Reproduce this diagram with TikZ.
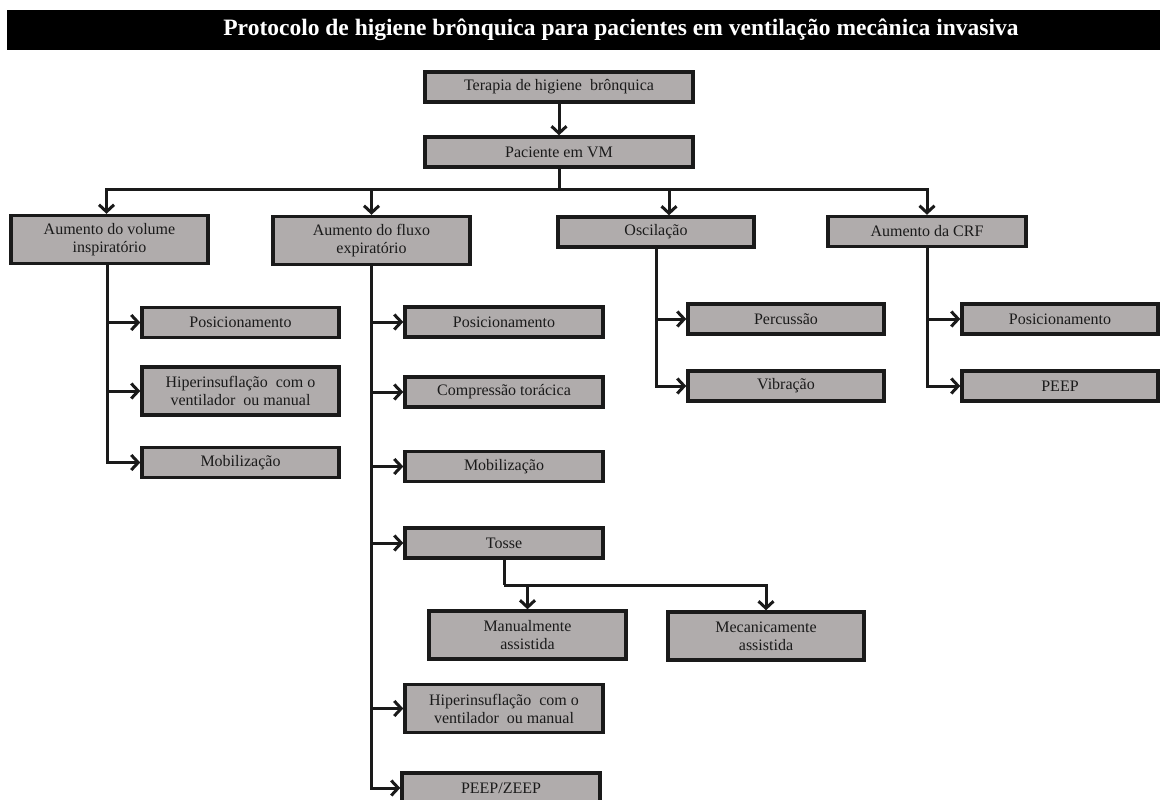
\documentclass[tikz,border=0pt]{standalone}
\usepackage{fontspec}
\setmainfont{Liberation Serif}
\usepackage{tikz,xcolor}
\usetikzlibrary{arrows.meta}
\definecolor{boxgray}{RGB}{176,172,172}
\definecolor{ink}{RGB}{26,26,26}
\tikzset{
 box/.style={draw=ink,line width=3.4pt,fill=boxgray,text=ink,minimum width=197pt,minimum height=30pt,inner sep=0pt,align=center,font=\fontsize{16}{18}\selectfont},
 tallbox/.style={box,minimum height=48pt},
 conn/.style={draw=ink,line width=3pt},
 arr/.style={conn,-{Straight Barb[length=7pt,width=15pt,line width=3pt]}}
}
\begin{document}
\begin{tikzpicture}[x=1pt,y=-1pt]
 \useasboundingbox (0,0) rectangle (1160,800);
 \fill[black] (7,10) rectangle (1160,50);
 \node[text=white,font=\bfseries\fontsize{23.5}{26}\selectfont] (titulo) at (621,30) {Protocolo de higiene brônquica para pacientes em ventilação mecânica invasiva};
 \node[box,minimum width=268pt] (terapia) at (559,87) {Terapia de higiene\enspace brônquica};
 \node[box,minimum width=268pt] (paciente) at (559,152) {Paciente em VM};
 \node[tallbox] (volume) at (109.5,239.5) {Aumento do volume\\inspiratório};
 \node[tallbox] (fluxo) at (371.5,240.5) {Aumento do fluxo\\expiratório};
 \node[box,minimum width=196pt] (oscilacao) at (656,232) {Oscilação};
 \node[box,minimum width=198pt] (crf) at (927,231.5) {Aumento da CRF};
 \node[box] (posA) at (240.5,322.5) {Posicionamento};
 \node[tallbox] (hipA) at (240.5,391) {Hiperinsuflação\enspace com o\\ventilador\enspace ou manual};
 \node[box] (mobA) at (240.5,462.5) {Mobilização};
 \node[box,minimum width=198pt] (posB) at (504,322) {Posicionamento};
 \node[box,minimum width=198pt] (compB) at (504,392) {Compressão torácica};
 \node[box,minimum width=198pt] (mobB) at (504,466.5) {Mobilização};
 \node[box,minimum width=198pt] (tosse) at (504,543) {Tosse};
 \node[tallbox] (manual) at (527.5,635) {Manualmente\\assistida};
 \node[tallbox,minimum width=196pt] (mecan) at (766,636) {Mecanicamente\\assistida};
 \node[tallbox,minimum width=198pt] (hipB) at (504,708.5) {Hiperinsuflação\enspace com o\\ventilador\enspace ou manual};
 \node[box,minimum width=198pt] (peepB) at (501,788) {PEEP/ZEEP};
 \node[box,minimum width=196pt] (percussao) at (786,319) {Percussão};
 \node[box,minimum width=196pt] (vibracao) at (786,386) {Vibração};
 \node[box,minimum width=196pt] (posD) at (1060,319) {Posicionamento};
 \node[box,minimum width=196pt] (peepD) at (1060,386) {PEEP};
 \coordinate (bus) at (559,189);
 \coordinate (tbus) at (504,585);
 \draw[arr] (terapia) -- (paciente);
 \draw[conn] (paciente.south) -- (bus);
 \draw[arr] (bus) -| ([xshift=-3pt]volume.north);
 \draw[arr] (bus) -| (fluxo.north);
 \draw[arr] (bus) -| ([xshift=13pt]oscilacao.north);
 \draw[arr] (bus) -| (crf.north);
 \foreach \t in {posA,hipA,mobA}
  \draw[arr] ([xshift=-2.5pt]volume.south) |- (\t.west);
 \foreach \t in {posB,compB,mobB,tosse,hipB,peepB}
  \draw[arr] (fluxo.south) |- (\t.west);
 \foreach \t in {percussao,vibracao}
  \draw[arr] (oscilacao.south) |- (\t.west);
 \foreach \t in {posD,peepD}
  \draw[arr] (crf.south) |- (\t.west);
 \draw[conn] (tosse.south) -- (tbus);
 \draw[arr] (tbus) -| (manual.north);
 \draw[arr] (tbus) -| (mecan.north);
\end{tikzpicture}
\end{document}
